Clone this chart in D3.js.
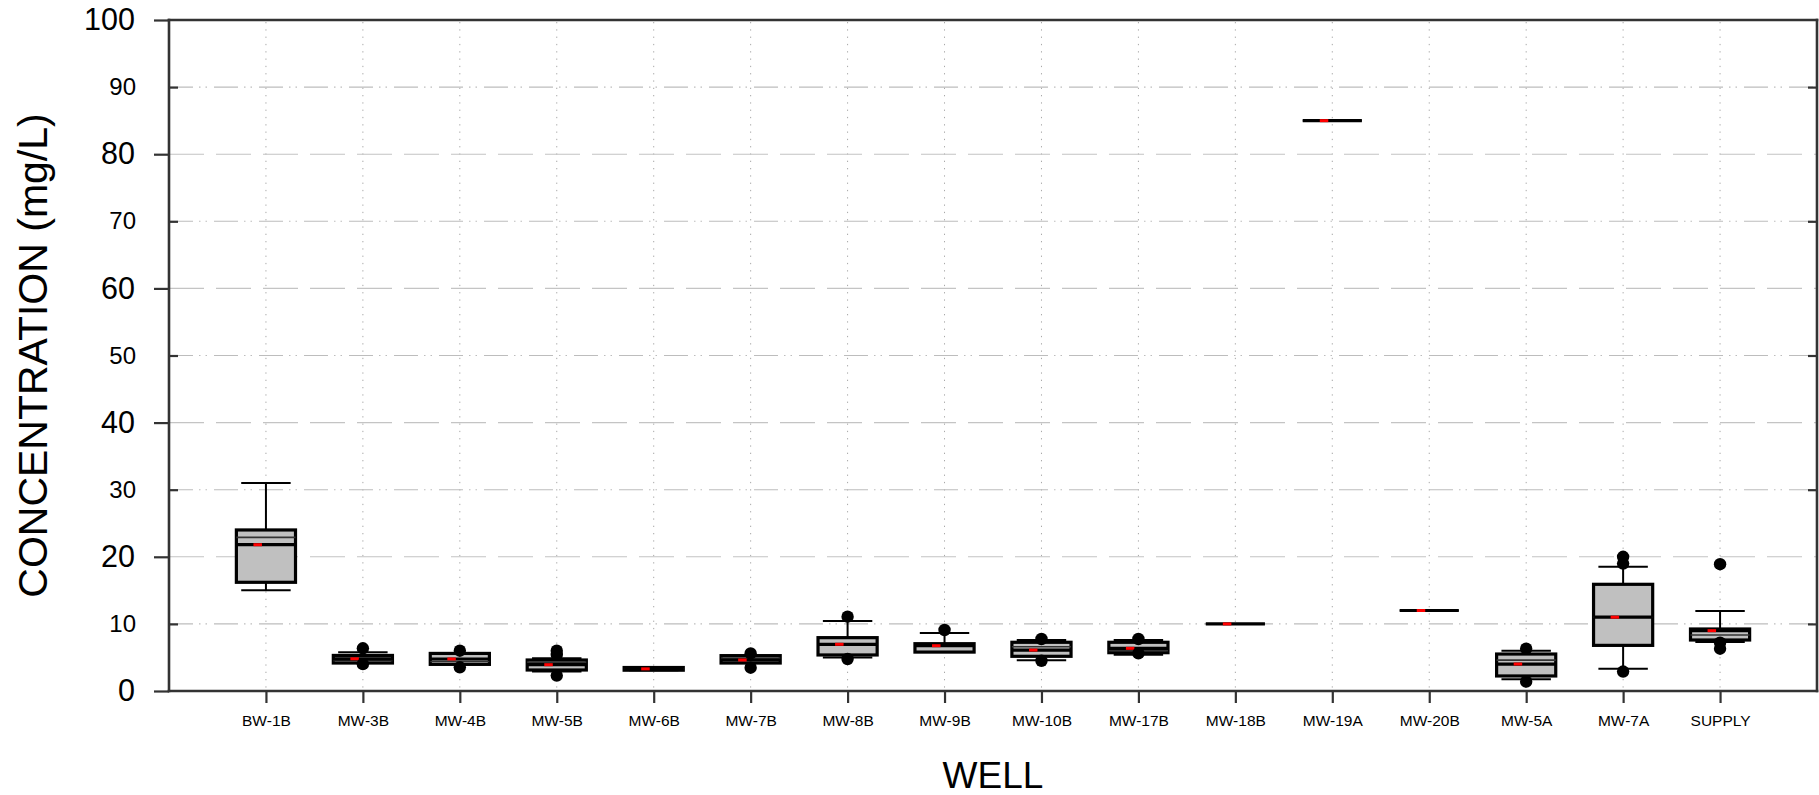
<!DOCTYPE html>
<html>
<head>
<meta charset="utf-8">
<script src="https://cdn.jsdelivr.net/npm/d3@7"></script>
<style>
  html, body { margin: 0; padding: 0; background: #fff; }
  svg { display: block; }
  text { font-family: Arial, "Liberation Sans", Helvetica, sans-serif; fill: #000; }
</style>
</head>
<body>
<svg id="chart" width="1819" height="795"></svg>
<script>
// ---------------- DATA ----------------
const categories = ["BW-1B","MW-3B","MW-4B","MW-5B","MW-6B","MW-7B","MW-8B","MW-9B","MW-10B","MW-17B","MW-18B","MW-19A","MW-20B","MW-5A","MW-7A","SUPPLY"];
const whiskerLow  = [15.0, 4.17, 3.97, 2.9,  3.1, 4.17, 5.0,  5.8,  4.57, 5.4,  10, 85, 12, 1.74, 3.33, 7.3];
const q1          = [16.2, 4.17, 3.97, 3.13, 3.1, 4.17, 5.37, 5.8,  5.17, 5.71, 10, 85, 12, 2.24, 6.8,  7.6];
const medianVals  = [22.9, 4.5,  4.4,  4.3,  3.3, 4.9,  6.96, 6.9,  6.6,  6.0,  10, 85, 12, 4.6,  11.0, 8.35];
const meanVals    = [21.8, 4.8,  4.77, 3.92, 3.3, 4.62, 6.96, 6.75, 6.1,  6.36, 10, 85, 12, 4.02, 11.0, 8.99];
const q3          = [24.0, 5.3,  5.6,  4.62, 3.5, 5.27, 7.95, 7.05, 7.26, 7.26, 10, 85, 12, 5.51, 15.9, 9.24];
const whiskerHigh = [31.0, 5.76, 5.6,  4.87, 3.5, 5.27, 10.43,8.64, 7.6,  7.6,  10, 85, 12, 6.0,  18.5, 11.92];
const outliers    = [[], [6.36, 4.0], [6.0, 3.53], [6.0, 5.4, 2.3], [], [5.6, 3.47], [11.08, 4.77], [9.09], [7.75, 4.5], [7.75, 5.6], [], [], [], [6.3, 1.39], [20.0, 19.0, 2.9], [18.9, 7.2, 6.3]];
const majorTicks  = [0, 20, 40, 60, 80, 100];
const minorTicks  = [10, 30, 50, 70, 90];
const yTitle = "CONCENTRATION (mg/L)";
const xTitle = "WELL";

// ---------------- LAYOUT ----------------
const svg = d3.select("#chart");
const L = 169, R = 1817, T = 20, B = 691;
const x = d3.scaleLinear().domain([0, categories.length + 1]).range([L, R]);
const y = d3.scaleLinear().domain([0, 100]).range([B, T]);
const step = x(1) - x(0);
const boxW = step * 0.61, capW = step * 0.51;

// ---------------- GRID ----------------
const grid = svg.append("g");
grid.selectAll("line.vg").data(categories).enter().append("line")
  .attr("x1", (d, i) => x(i + 1)).attr("x2", (d, i) => x(i + 1))
  .attr("y1", T + 2).attr("y2", B)
  .attr("stroke", "#a8a8a8").attr("stroke-width", 1).attr("stroke-dasharray", "1.3,6");
grid.selectAll("line.hmaj").data(majorTicks.filter(v => v > 0 && v < 100)).enter().append("line")
  .attr("x1", L).attr("x2", R).attr("y1", d => y(d)).attr("y2", d => y(d))
  .attr("stroke", "#c4c4c4").attr("stroke-width", 1.1).attr("stroke-dasharray", "35,12");
grid.selectAll("line.hmin").data(minorTicks).enter().append("line")
  .attr("x1", L).attr("x2", R).attr("y1", d => y(d)).attr("y2", d => y(d))
  .attr("stroke", "#bdbdbd").attr("stroke-width", 1.1).attr("stroke-dasharray", "24,6,1.5,5,1.5,7");

// ---------------- BOXES ----------------
const data = categories.map((c, i) => ({
  c, i, wl: whiskerLow[i], q1: q1[i], med: medianVals[i], mean: meanVals[i],
  q3: q3[i], wh: whiskerHigh[i], out: outliers[i]
}));
const g = svg.append("g");
const bx = g.selectAll("g.box").data(data).enter().append("g")
  .attr("transform", d => `translate(${x(d.i + 1)},0)`);

// whiskers
bx.append("line").attr("x1", 0).attr("x2", 0)
  .attr("y1", d => y(d.q3)).attr("y2", d => y(d.wh))
  .attr("stroke", "#000").attr("stroke-width", 2);
bx.append("line").attr("x1", 0).attr("x2", 0)
  .attr("y1", d => y(d.q1)).attr("y2", d => y(d.wl))
  .attr("stroke", "#000").attr("stroke-width", 2);
bx.append("line").attr("x1", -capW / 2).attr("x2", capW / 2)
  .attr("y1", d => y(d.wh)).attr("y2", d => y(d.wh))
  .attr("stroke", "#000").attr("stroke-width", 2);
bx.append("line").attr("x1", -capW / 2).attr("x2", capW / 2)
  .attr("y1", d => y(d.wl)).attr("y2", d => y(d.wl))
  .attr("stroke", "#000").attr("stroke-width", 2);

// box
bx.append("rect")
  .attr("x", -boxW / 2).attr("width", boxW)
  .attr("y", d => y(d.q3)).attr("height", d => Math.max(0, y(d.q1) - y(d.q3)))
  .attr("fill", "#c0c0c0").attr("stroke", "#000").attr("stroke-width", 3.2);
// median (thin)
bx.append("line").attr("x1", -boxW / 2).attr("x2", boxW / 2)
  .attr("y1", d => y(d.med)).attr("y2", d => y(d.med))
  .attr("stroke", "#333").attr("stroke-width", 1.6);
// mean (thick)
bx.append("line").attr("x1", -boxW / 2).attr("x2", boxW / 2)
  .attr("y1", d => y(d.mean)).attr("y2", d => y(d.mean))
  .attr("stroke", "#000").attr("stroke-width", 3.2);
// red marker
bx.append("line").attr("x1", -12.5).attr("x2", -4)
  .attr("y1", d => y(d.mean)).attr("y2", d => y(d.mean))
  .attr("stroke", "#ff0000").attr("stroke-width", 3);

// outliers
bx.selectAll("circle").data(d => d.out).enter().append("circle")
  .attr("cx", 0).attr("cy", v => y(v)).attr("r", 6.2).attr("fill", "#000");

// ---------------- AXES ----------------
const axisColor = "#333";
const frame = svg.append("g");
frame.append("line").attr("x1", L).attr("x2", R).attr("y1", T).attr("y2", T);
frame.append("line").attr("x1", L).attr("x2", R).attr("y1", B).attr("y2", B);
frame.append("line").attr("x1", L).attr("x2", L).attr("y1", T).attr("y2", B);
frame.append("line").attr("x1", R).attr("x2", R).attr("y1", T).attr("y2", B);
frame.selectAll("line").attr("stroke", axisColor).attr("stroke-width", 2.6).attr("stroke-linecap", "square");

const yMajor = svg.append("g").attr("transform", `translate(${L},0)`)
  .call(d3.axisLeft(y).tickValues(majorTicks).tickSizeInner(15).tickSizeOuter(0).tickPadding(19).tickFormat(d3.format("d")));
yMajor.selectAll("text").style("font-size", "30.5px");
const yMinor = svg.append("g").attr("transform", `translate(${L},0)`)
  .call(d3.axisLeft(y).tickValues(minorTicks).tickSizeInner(-9).tickSizeOuter(0).tickPadding(33).tickFormat(d3.format("d")));
yMinor.selectAll("text").style("font-size", "24px");
const yRight = svg.append("g").attr("transform", `translate(${R},0)`)
  .call(d3.axisRight(y).tickValues(minorTicks).tickSizeInner(-9).tickSizeOuter(0).tickFormat(""));
const xAxis = svg.append("g").attr("transform", `translate(0,${B})`)
  .call(d3.axisBottom(x).tickValues(d3.range(1, categories.length + 1)).tickSizeInner(12).tickSizeOuter(0).tickPadding(12)
    .tickFormat(i => categories[i - 1]));
xAxis.selectAll("text").style("font-size", "15.5px");

[yMajor, yMinor, yRight, xAxis].forEach(a => {
  a.select(".domain").remove();
  a.selectAll("line").attr("stroke", axisColor).attr("stroke-width", 2.2);
  a.selectAll("text").attr("fill", "#000").style("font-family", 'Arial, "Liberation Sans", sans-serif');
});

// ---------------- TITLES ----------------
svg.append("text")
  .attr("transform", `translate(47,${(T + B) / 2}) rotate(-90)`)
  .attr("text-anchor", "middle")
  .style("font-size", "41px")
  .text(yTitle);
svg.append("text")
  .attr("x", (L + R) / 2).attr("y", 788)
  .attr("text-anchor", "middle")
  .style("font-size", "37px")
  .text(xTitle);
</script>
</body>
</html>
